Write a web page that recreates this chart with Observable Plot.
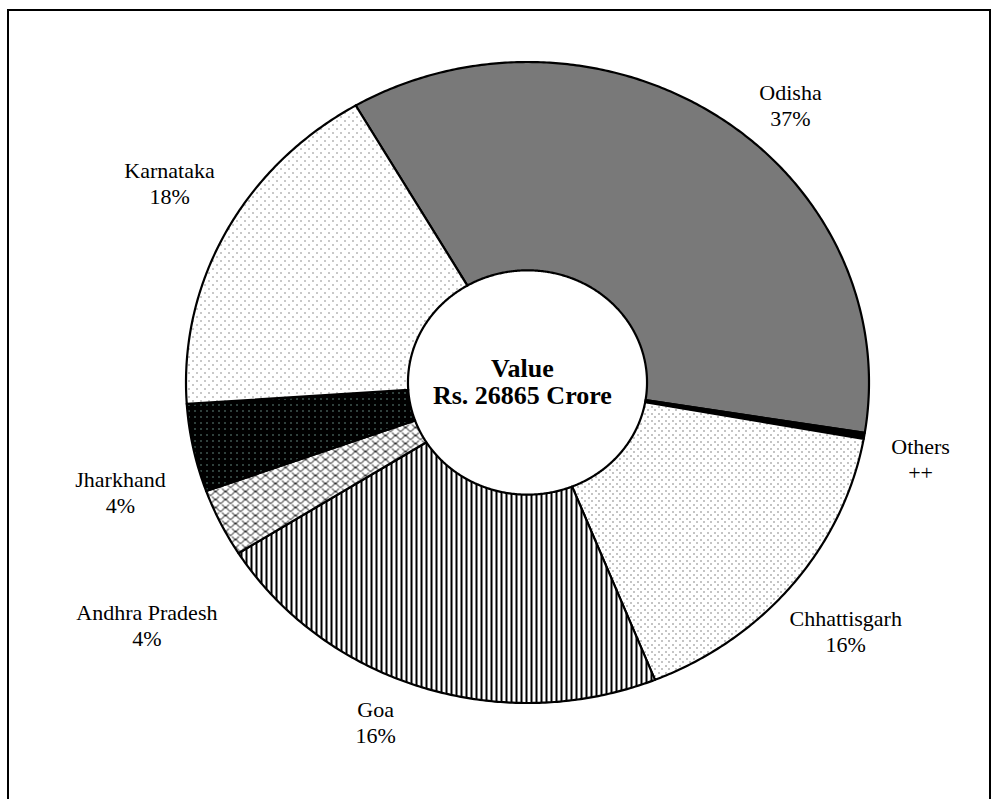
<!DOCTYPE html>
<html>
<head>
<meta charset="utf-8">
<script src="https://cdn.jsdelivr.net/npm/d3@7"></script>
<script src="https://cdn.jsdelivr.net/npm/@observablehq/plot@0.6"></script>
<style>
  html, body { margin: 0; padding: 0; background: #fff; overflow: hidden; }
  #wrap { position: relative; width: 1000px; height: 799px; }
  #frame { position: absolute; left: 7px; top: 9px; width: 984px; height: 820px; border: 2px solid #000; box-sizing: border-box; pointer-events: none; }
  #chart { position: absolute; left: 0; top: 0; }
</style>
</head>
<body>
<div id="wrap"><div id="chart"></div><div id="frame"></div></div>
<script>
// ---- data ----
const states = ["Odisha", "Others", "Chhattisgarh", "Goa", "Andhra Pradesh", "Jharkhand", "Karnataka"];
const shares = [35.9, 0.3, 16.1, 22.15, 3.44, 4.44, 17.67];             // slice sizes as drawn
const shareLabels = ["37%", "++", "16%", "16%", "4%", "4%", "18%"];     // printed labels
const centreTitle = "Value";
const centreValue = "Rs. 26865 Crore";

// ---- styling / layout ----
const patternOf = {
  "Odisha": "url(#pOdisha)",
  "Others": "#000",
  "Chhattisgarh": "url(#pChh)",
  "Goa": "url(#pGoa)",
  "Andhra Pradesh": "url(#pAndhra)",
  "Jharkhand": "url(#pJhar)",
  "Karnataka": "url(#pKarn)"
};
const startAngle = -30.2;   // degrees, clockwise from 12 o'clock
const innerRatio = 0.35;
// label placement: [angle in degrees, radius relative to outer]
const labelPlace = {
  "Odisha": [41.6, 1.16],
  "Others": [101.6, 1.175],
  "Chhattisgarh": [129.7, 1.211],
  "Goa": [202.8, 1.148],
  "Andhra Pradesh": [235.9, 1.346],
  "Jharkhand": [254, 1.24],
  "Karnataka": [300.7, 1.219]
};

const total = d3.sum(shares);
const rad = d => d * Math.PI / 180;
const polar = (a, r) => ({u: r * Math.sin(rad(a)), v: r * Math.cos(rad(a))});

let acc = startAngle;
const slices = states.map((name, i) => {
  const a0 = acc, a1 = acc + shares[i] / total * 360;
  acc = a1;
  const n = Math.max(2, Math.ceil((a1 - a0) / 0.5));
  const outer = d3.range(n + 1).map(k => polar(a0 + (a1 - a0) * k / n, 1));
  const inner = d3.range(n + 1).map(k => polar(a1 - (a1 - a0) * k / n, innerRatio));
  return {name, a0, a1, points: outer.concat(inner).map(p => ({...p, name}))};
});

const labelRows = states.map((name, i) => {
  const [a, r] = labelPlace[name];
  const p = polar(a, r);
  return {u: p.u, v: p.v, text: name + "\n" + shareLabels[i]};
});

const marks = slices.map(s =>
  Plot.line(s.points, {
    x: "u", y: "v", curve: "linear-closed",
    fill: patternOf[s.name], stroke: "#000", strokeWidth: 2.2,
    strokeLinejoin: "round"
  })
);
marks.push(Plot.text(labelRows, {
  x: "u", y: "v", text: "text", fontSize: 22, lineHeight: 1.18,
  fontFamily: "Liberation Serif", fill: "#000", textAnchor: "middle"
}));
marks.push(Plot.text([{u: -0.015, v: 0.003, text: centreTitle + "\n" + centreValue}], {
  x: "u", y: "v", text: "text", fontSize: 26, lineHeight: 1.05, fontWeight: "bold",
  fontFamily: "Liberation Serif", fill: "#000", textAnchor: "middle"
}));

const cx = 527, cy = 382, rx = 341.5, ry = 320.5, W = 1000, H = 799;
const chart = Plot.plot({
  width: W, height: H,
  margin: 0,
  x: {domain: [-cx / rx, (W - cx) / rx], range: [0, W], axis: null},
  y: {domain: [-(H - cy) / ry, cy / ry], range: [H, 0], axis: null},
  style: {background: "transparent"},
  marks
});

// pattern definitions
const defs = `
<defs>
  <pattern id="pOdisha" patternUnits="userSpaceOnUse" width="2" height="2">
    <rect width="2" height="2" fill="#fff"/>
    <rect x="0" y="0" width="1" height="1" fill="#000"/>
    <rect x="1" y="1" width="1" height="1" fill="#000"/>
    <rect x="1" y="0" width="1" height="1" fill="#000" opacity="0.1"/>
  </pattern>
  <pattern id="pKarn" patternUnits="userSpaceOnUse" width="8" height="8">
    <rect width="8" height="8" fill="#fff"/>
    <rect x="0" y="0" width="1" height="1" fill="#222"/>
    <rect x="4" y="4" width="1" height="1" fill="#222"/>
  </pattern>
  <pattern id="pChh" patternUnits="userSpaceOnUse" width="7" height="7">
    <rect width="7" height="7" fill="#fff"/>
    <rect x="0" y="0" width="1" height="1" fill="#111"/>
    <rect x="3" y="3" width="1" height="1" fill="#111"/>
  </pattern>
  <pattern id="pGoa" patternUnits="userSpaceOnUse" width="5" height="5">
    <rect width="5" height="5" fill="#fff"/>
    <rect x="0" y="0" width="2" height="5" fill="#000"/>
  </pattern>
  <pattern id="pJhar" patternUnits="userSpaceOnUse" width="6" height="6">
    <rect width="6" height="6" fill="#000"/>
    <rect x="2" y="2" width="1" height="1" fill="#bfe"/>
  </pattern>
  <pattern id="pAndhra" patternUnits="userSpaceOnUse" width="10" height="8">
    <rect width="10" height="8" fill="#fff"/>
    <path d="M0,7 C2,7 3,3 5,3 C7,3 8,7 10,7 M-5,3 C-3,3 -2,-1 0,-1 C2,-1 3,3 5,3 M5,3 C7,3 8,-1 10,-1 C12,-1 13,3 15,3" fill="none" stroke="#000" stroke-width="1"/>
  </pattern>
</defs>`;
chart.insertAdjacentHTML("afterbegin", defs);
document.getElementById("chart").appendChild(chart);
</script>
</body>
</html>
